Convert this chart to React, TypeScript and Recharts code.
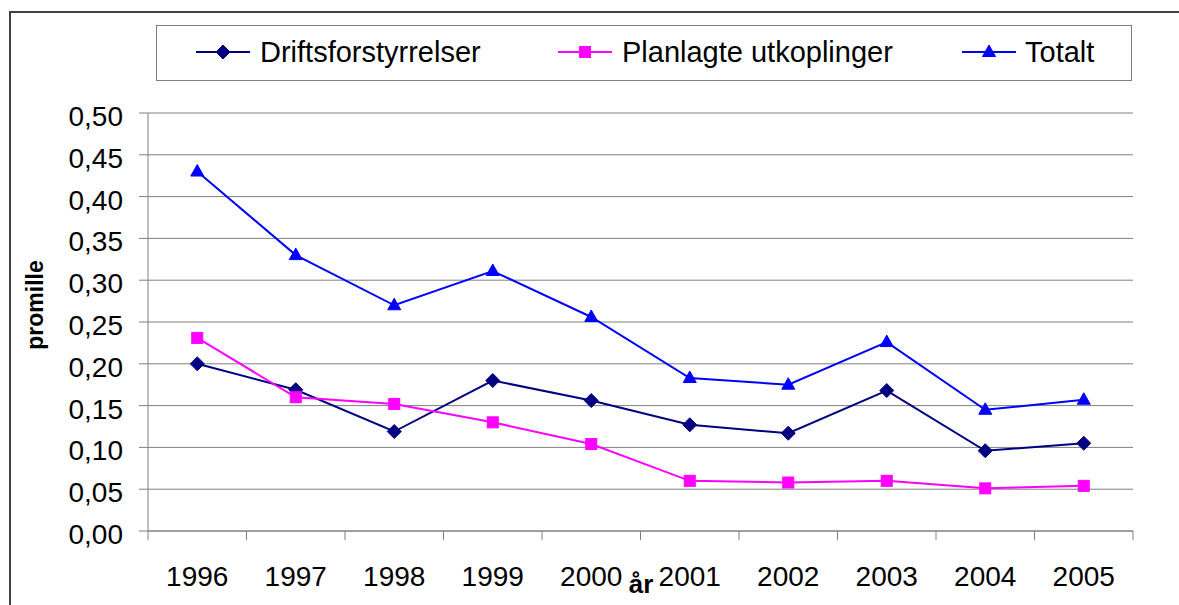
import { LineChart, Line, XAxis, YAxis, CartesianGrid } from "recharts";

const years = ["1996", "1997", "1998", "1999", "2000", "2001", "2002", "2003", "2004", "2005"];
const driftsforstyrrelser = [0.2, 0.169, 0.119, 0.18, 0.156, 0.127, 0.117, 0.168, 0.096, 0.105];
const planlagteUtkoplinger = [0.231, 0.16, 0.152, 0.13, 0.104, 0.06, 0.058, 0.06, 0.051, 0.054];
const totalt = [0.43, 0.33, 0.27, 0.311, 0.256, 0.183, 0.175, 0.226, 0.145, 0.157];
const yTicks = [0, 0.05, 0.1, 0.15, 0.2, 0.25, 0.3, 0.35, 0.4, 0.45, 0.5];
const xEdges = years.map((_, i) => i).concat(years.length);

const data = years.map((year, i) => ({
  year,
  pos: i + 0.5,
  drift: driftsforstyrrelser[i],
  plan: planlagteUtkoplinger[i],
  total: totalt[i],
}));

const W = 1179;
const H = 605;
const PLOT_LEFT = 148;
const PLOT_RIGHT = 1133;
const BAND = (PLOT_RIGHT - PLOT_LEFT) / years.length;
const FONT = '"Liberation Sans", Arial, sans-serif';

const NAVY = "#000080";
const MAGENTA = "#FF00FF";
const BLUE = "#0000FF";

const Diamond = ({ cx, cy, color }: any) => (
  <polygon points={`${cx},${cy - 7} ${cx + 7},${cy} ${cx},${cy + 7} ${cx - 7},${cy}`} fill={color} stroke={color} />
);
const Square = ({ cx, cy, color }: any) => (
  <rect x={cx - 5.5} y={cy - 5.5} width={11} height={11} fill={color} stroke={color} />
);
const Triangle = ({ cx, cy, color }: any) => (
  <polygon points={`${cx},${cy - 7} ${cx + 6.5},${cy + 4.5} ${cx - 6.5},${cy + 4.5}`} fill={color} stroke={color} />
);

const series = [
  { key: "drift", name: "Driftsforstyrrelser", color: NAVY, Marker: Diamond, lineX: 196, textX: 260 },
  { key: "plan", name: "Planlagte utkoplinger", color: MAGENTA, Marker: Square, lineX: 558, textX: 622 },
  { key: "total", name: "Totalt", color: BLUE, Marker: Triangle, lineX: 962, textX: 1025 },
];

const XTick = (props: any) => {
  const { x, y, payload } = props;
  const i = payload.value;
  if (i >= years.length) return <g />;
  return (
    <text x={x + BAND / 2} y={y} dy="0.71em" textAnchor="middle" fontSize={28} fill="#000" fontFamily={FONT}>
      {years[i]}
    </text>
  );
};

const YTick = (props: any) => {
  const { x, y, payload } = props;
  return (
    <text x={x} y={y + 3} dy="0.355em" textAnchor="end" fontSize={28} fill="#000" fontFamily={FONT}>
      {payload.value.toFixed(2).replace(".", ",")}
    </text>
  );
};

export default function App() {
  return (
    <div style={{ position: "absolute", left: 0, top: 0, width: W, height: H, overflow: "hidden", background: "#fff", fontFamily: FONT }}>
      <div
        style={{
          position: "absolute",
          left: 9,
          top: 11,
          width: W + 20,
          height: H + 20,
          border: "2px solid #404040",
          boxSizing: "border-box",
        }}
      />
      <LineChart width={W} height={H} data={data} margin={{ top: 113, right: W - PLOT_RIGHT, bottom: 24, left: 88 }}>
        <CartesianGrid vertical={false} stroke="#808080" />
        <XAxis
          type="number"
          dataKey="pos"
          domain={[0, years.length]}
          ticks={xEdges}
          interval={0}
          height={50}
          tickSize={9}
          tickMargin={26}
          stroke="#808080"
          tick={<XTick />}
        />
        <YAxis
          domain={[0, 0.5]}
          ticks={yTicks}
          interval={0}
          width={60}
          tickSize={9}
          tickMargin={16}
          stroke="#808080"
          tick={<YTick />}
        />
        {series.map((s) => (
          <Line
            key={s.key}
            type="linear"
            dataKey={s.key}
            name={s.name}
            stroke={s.color}
            strokeWidth={2}
            isAnimationActive={false}
            dot={(p: any) => <s.Marker key={`${s.key}-${p.index}`} cx={p.cx} cy={p.cy} color={s.color} />}
          />
        ))}
      </LineChart>
      <svg width={W} height={H} style={{ position: "absolute", left: 0, top: 0, pointerEvents: "none" }}>
        <rect x={156.5} y={25.5} width={975} height={55} fill="#fff" stroke="#808080" strokeWidth={1} />
        {series.map((s) => (
          <g key={s.key}>
            <line x1={s.lineX} x2={s.lineX + 54} y1={52} y2={52} stroke={s.color} strokeWidth={2} />
            <s.Marker cx={s.lineX + 27} cy={52} color={s.color} />
            <text x={s.textX} y={62} fontSize={29} fill="#000" fontFamily={FONT}>
              {s.name}
            </text>
          </g>
        ))}
        <text
          x={0}
          y={0}
          transform="translate(43,305) rotate(-90)"
          textAnchor="middle"
          fontSize={23}
          fontWeight="bold"
          fill="#000"
          fontFamily={FONT}
        >
          promille
        </text>
        <text x={641} y={593} textAnchor="middle" fontSize={26} fontWeight="bold" fill="#000" fontFamily={FONT}>
          år
        </text>
      </svg>
    </div>
  );
}
